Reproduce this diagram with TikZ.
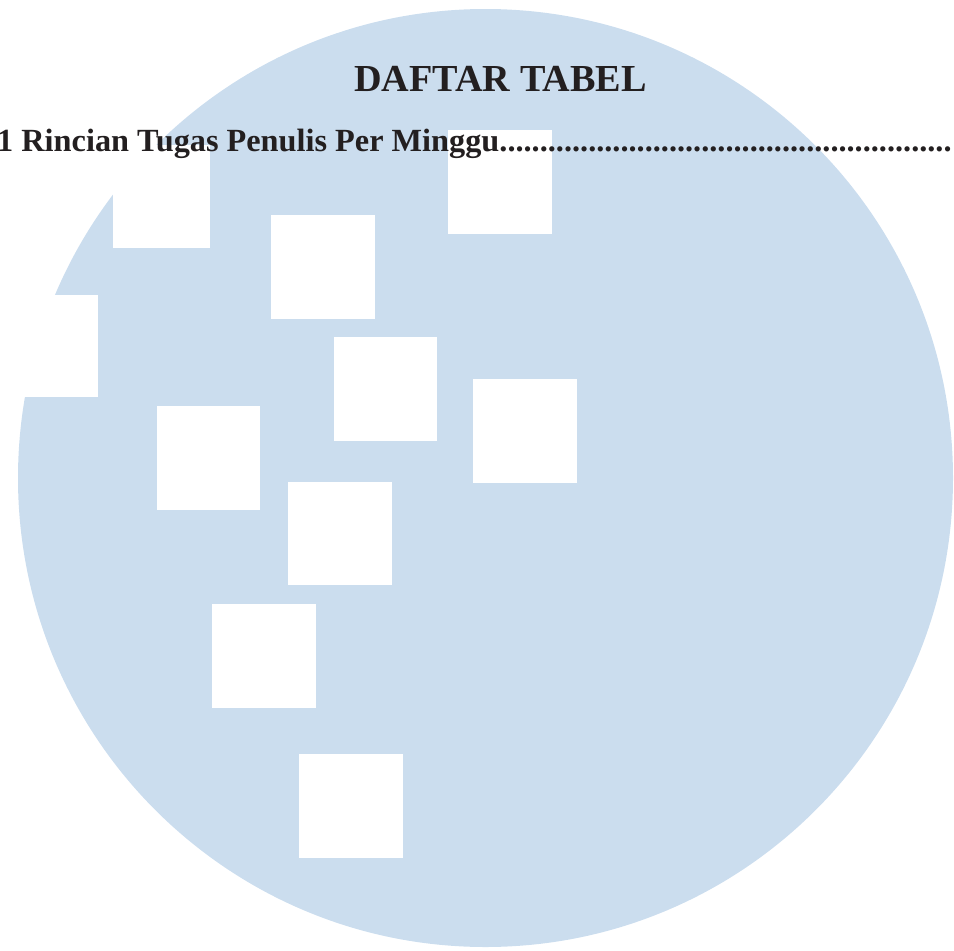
\documentclass[tikz,border=0pt]{standalone}
\usepackage{fontspec}
\setmainfont{Liberation Serif}
\definecolor{disc}{HTML}{CBDDEE}
\definecolor{ink}{HTML}{231F20}
\tikzset{
  x=1pt,y=-1pt,
  hole/.style={fill=white,draw=none},
  heading/.style={inner sep=0pt,text=ink,font=\bfseries\fontsize{38.2}{38.2}\selectfont,anchor=base},
  entry/.style={inner sep=0pt,text=ink,font=\bfseries\fontsize{32.3}{32.3}\selectfont,anchor=base west},
}
\begin{document}
\begin{tikzpicture}
\useasboundingbox (0,0) rectangle (954,951);
\fill[disc] (485.5,478) ellipse [x radius=467.5, y radius=469];
\fill[hole] (113,145) rectangle (210,248);
\fill[hole] (0,295) rectangle (98,397);
\fill[hole] (271,215) rectangle (375,319);
\fill[hole] (448,130) rectangle (552,234);
\fill[hole] (334,337) rectangle (437,441);
\fill[hole] (473,379) rectangle (577,483);
\fill[hole] (157,406) rectangle (260,510);
\fill[hole] (288,482) rectangle (392,585);
\fill[hole] (212,604) rectangle (316,708);
\fill[hole] (299,754) rectangle (403,858);
\node[heading] (title) at (500.5,91) {DAFTAR TABEL};
\begin{scope}
\clip (0,0) rectangle (954,951);
\node[entry] (row) at (-3,151) {1 Rincian Tugas Penulis Per Minggu........................................................};
\end{scope}
\end{tikzpicture}
\end{document}
